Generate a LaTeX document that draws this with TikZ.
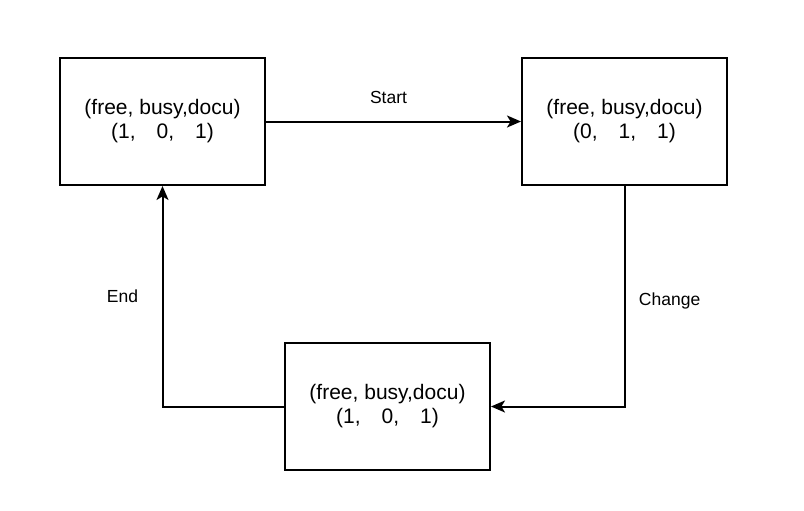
\documentclass[tikz,border=0pt]{standalone}
\usepackage{fontspec}
\setmainfont{Liberation Sans}
\usetikzlibrary{positioning, arrows.meta}

\begin{document}
\begin{tikzpicture}[x=0.5pt,y=-0.5pt,
        state/.style={draw, line width=1pt, minimum width=102.5pt, minimum height=63.5pt,
            align=center, font=\fontsize{10.5}{12}\selectfont},
        trans/.style={-{Stealth[length=7pt,width=6pt,inset=1.8pt]}, line width=1pt},
        lbl/.style={font=\fontsize{8.75}{10.5}\selectfont}]
        \useasboundingbox (0,0) rectangle (804,510);

        \coordinate (I) at (162.5,121.5);
        \coordinate (B) at (624.5,121.5);
        \coordinate (D) at (387.5,406.5);

        % states
        \node[state] (idle) at (I) {(free, busy,docu)\\(1,\hspace{1em}0,\hspace{1em}1)};
        \node[state] (busy) at (B) {(free, busy,docu)\\(0,\hspace{1em}1,\hspace{1em}1)};
        \node[state] (done) at (D) {(free, busy,docu)\\(1,\hspace{1em}0,\hspace{1em}1)};

        % transitions
        \draw[trans] (idle) -- (busy) node[lbl, midway, above=5pt, xshift=-2.5pt] {Start};
        \draw[trans] (busy.south) |- (done.east) node[lbl, pos=0.25, right=3.4pt, yshift=-2.5pt] {Change};
        \draw[trans] (done.west) -| (idle.south) node[lbl, pos=0.75, left=8.4pt] {End};
    \end{tikzpicture}
\end{document}
